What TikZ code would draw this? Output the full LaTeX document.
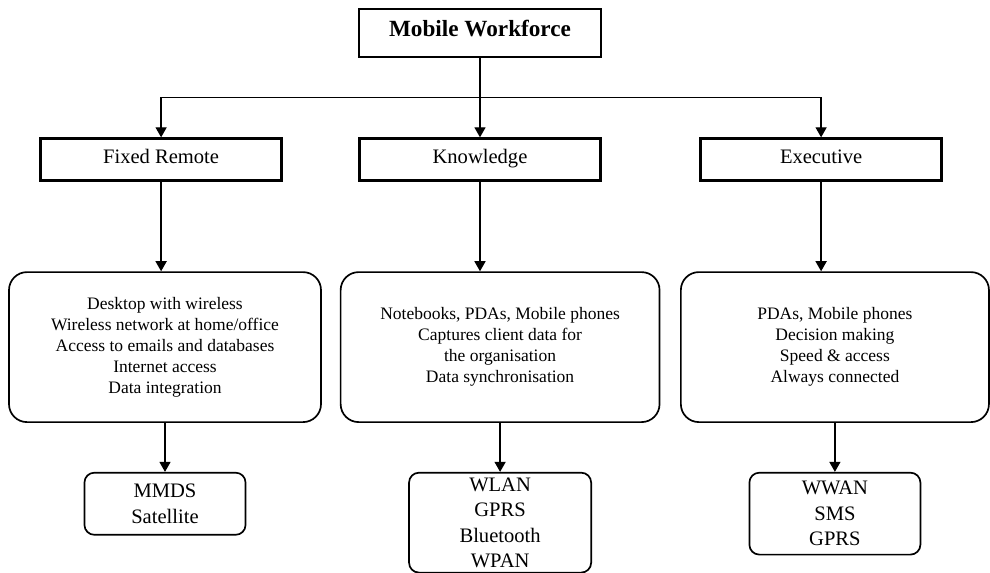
\documentclass[tikz,border=0pt]{standalone}
\usepackage{fontspec}
\setmainfont{Liberation Serif}
\usetikzlibrary{
	arrows.meta,
	positioning
}

\begin{document}
\begin{tikzpicture}[
		head/.style={draw, line width=2.6pt, minimum width=8.07cm, minimum height=1.6cm, text height=0.66em, text depth=0pt, font=\fontsize{22}{26}\selectfont\bfseries},
		role/.style={draw, line width=3pt, minimum width=8.03cm, minimum height=1.4cm, text height=0.66em, text depth=0pt, font=\fontsize{19.5}{23}\selectfont},
		detail/.style={draw, rounded corners=0.6cm, line width=1.6pt, minimum height=5cm, align=center, font=\fontsize{16.6}{19.9}\selectfont},
		network/.style={draw, rounded corners=0.33cm, line width=1.6pt, inner sep=0pt, align=center, font=\fontsize{19.5}{24.2}\selectfont},
		arrow/.style={-{Triangle[length=9.5pt,width=10.5pt]}, line width=1.2pt}
		]
		
		\useasboundingbox[fill=white] (0,0) rectangle (33,-19.07);
		
		% =========================
		% Top of the tree
		% =========================
		\node[head] (mobile) at (16.0,-1.10) {Mobile Workforce};
		\coordinate[below=1.3cm of mobile.south] (bus);
		
		% =========================
		% Workforce types
		% =========================
		\node[role] (fixed) at (5.37,-5.33) {Fixed Remote};
		\node[role] (knowledge) at (16.0,-5.33) {Knowledge};
		\node[role] (executive) at (27.37,-5.33) {Executive};
		
		% =========================
		% Devices and tasks
		% =========================
		\node[detail, minimum width=10.4cm] (fixeddev) at (5.5,-11.57) {
			Desktop with wireless\\
			Wireless network at home/office\\
			Access to emails and databases\\
			Internet access\\
			Data integration
		};
		\node[detail, minimum width=10.63cm] (knowdev) at (16.67,-11.57) {
			Notebooks, PDAs, Mobile phones\\
			Captures client data for\\
			the organisation\\
			Data synchronisation
		};
		\node[detail, minimum width=10.27cm] (execdev) at (27.83,-11.57) {
			PDAs, Mobile phones\\
			Decision making\\
			Speed \& access\\
			Always connected
		};
		
		% =========================
		% Wireless networks
		% =========================
		\node[network, minimum width=5.37cm, minimum height=2.07cm, below=1.63cm of fixeddev] (fixednet) {MMDS\\Satellite};
		\node[network, minimum width=6.07cm, minimum height=3.33cm, below=1.63cm of knowdev] (knownet) {WLAN\\GPRS\\Bluetooth\\WPAN};
		\node[network, minimum width=5.7cm, minimum height=2.73cm, below=1.63cm of execdev] (execnet) {WWAN\\SMS\\GPRS};
		
		% =========================
		% Arrows
		% =========================
		\draw[arrow] (mobile) -- (knowledge);
		\draw[arrow] (bus) -| (fixed);
		\draw[arrow] (bus) -| (executive);
		
		\draw[arrow] (fixed) -- (fixed.south |- fixeddev.north);
		\draw[arrow] (knowledge) -- (knowledge.south |- knowdev.north);
		\draw[arrow] (executive) -- (executive.south |- execdev.north);
		
		\draw[arrow] (fixeddev) -- (fixednet);
		\draw[arrow] (knowdev) -- (knownet);
		\draw[arrow] (execdev) -- (execnet);
		
	\end{tikzpicture}
\end{document}
